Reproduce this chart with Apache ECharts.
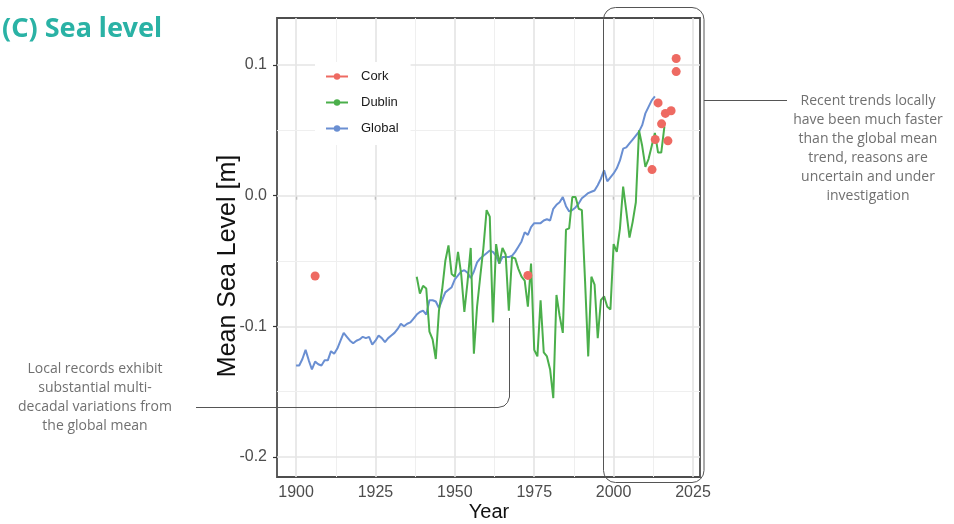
<!DOCTYPE html>
<html>
<head>
<meta charset="utf-8">
<script src="https://cdn.jsdelivr.net/npm/echarts@6/dist/echarts.min.js"></script>
<style>
  html, body { margin: 0; padding: 0; background: #fff; }
  #chart { width: 954px; height: 524px; }
</style>
</head>
<body>
<div id="chart"></div>
<script>
// annual mean sea level [m]
const globalStart = 1900
const globalValues = [
  -0.130, -0.130, -0.125, -0.118, -0.126, -0.133, -0.127, -0.129, -0.130, -0.126,
  -0.126, -0.119, -0.121, -0.117, -0.111, -0.105, -0.108, -0.111, -0.113, -0.111,
  -0.110, -0.108, -0.109, -0.108, -0.114, -0.111, -0.107, -0.109, -0.112, -0.109,
  -0.107, -0.105, -0.102, -0.098, -0.100, -0.098, -0.097, -0.094, -0.091, -0.089,
  -0.088, -0.091, -0.080, -0.080, -0.081, -0.086, -0.080, -0.074, -0.072, -0.070,
  -0.064, -0.061, -0.058, -0.057, -0.059, -0.063, -0.058, -0.051, -0.048, -0.046,
  -0.044, -0.042, -0.043, -0.046, -0.052, -0.047, -0.047, -0.047, -0.046, -0.043,
  -0.039, -0.035, -0.028, -0.030, -0.024, -0.021, -0.021, -0.021, -0.019, -0.018,
  -0.019, -0.010, -0.007, -0.005, -0.001, -0.008, -0.012, -0.011, -0.009, -0.006,
  -0.002, 0.000, 0.002, 0.003, 0.004, 0.008, 0.013, 0.0195, 0.011, 0.014,
  0.017, 0.021, 0.027, 0.036, 0.037, 0.040, 0.043, 0.046, 0.049, 0.054,
  0.063, 0.068, 0.073, 0.076,
]

const dublinStart = 1938
const dublinValues = [
  -0.062, -0.075, -0.069, -0.071, -0.104, -0.110, -0.125, -0.088, -0.072, -0.050,
  -0.038, -0.060, -0.062, -0.043, -0.060, -0.089, -0.066, -0.040, -0.121, -0.085,
  -0.062, -0.040, -0.011, -0.016, -0.097, -0.037, -0.052, -0.040, -0.045, -0.088,
  -0.047, -0.048, -0.056, -0.062, -0.065, -0.085, -0.052, -0.118, -0.123, -0.080,
  -0.120, -0.123, -0.133, -0.155, -0.076, -0.092, -0.105, -0.026, -0.025, -0.001,
  -0.001, -0.010, -0.011, -0.065, -0.123, -0.062, -0.068, -0.109, -0.080, -0.077,
  -0.085, -0.087, -0.037, -0.043, -0.025, 0.007, -0.012, -0.032, -0.020, -0.005,
  0.050, 0.038, 0.022, 0.028, 0.038, 0.048, 0.033, 0.033, 0.053,
]

const corkYears  = [1906, 1973, 2012.1, 2013.1, 2014, 2015.1, 2016.3, 2017.1, 2018.1, 2019.7, 2019.7]
const corkValues = [-0.0615, -0.061, 0.020, 0.043, 0.071, 0.055, 0.063, 0.042, 0.065, 0.105, 0.095]

const xTicks = [1900, 1925, 1950, 1975, 2000, 2025]
const xMinor = [1912.5, 1937.5, 1962.5, 1987.5, 2012.5]
const yTicks = [-0.2, -0.1, 0.0, 0.1]
const yMinor = [-0.15, -0.05, 0.05]

const RED = '#EE6A62', GREEN = '#4BAF4B', BLUE = '#6A8FD2'
const GRID_MAJOR = { color: '#e4e4e4', width: 1.6, type: 'solid' }
const GRID_MINOR = { color: '#efefef', width: 1, type: 'solid' }

const gridLines = [
  ...xTicks.map(v => ({ xAxis: v, lineStyle: GRID_MAJOR })),
  ...xMinor.map(v => ({ xAxis: v, lineStyle: GRID_MINOR })),
  ...yTicks.map(v => ({ yAxis: v, lineStyle: GRID_MAJOR })),
  ...yMinor.map(v => ({ yAxis: v, lineStyle: GRID_MINOR })),
]

const chart = echarts.init(document.getElementById('chart'), null, { renderer: 'canvas' })

const axisFont = { color: '#4d4d4d', fontSize: 16, fontFamily: 'Liberation Sans, Arial, sans-serif' }
const noteStyle = { fill: '#707070', fontSize: 14, fontFamily: 'Open Sans, sans-serif', lineHeight: 19 }

chart.setOption({
  animation: false,
  backgroundColor: '#fff',
  grid: { left: 277, right: 254, top: 18, bottom: 47, show: true, borderColor: '#4d4d4d', borderWidth: 1.8, backgroundColor: 'transparent' },
  xAxis: {
    type: 'value', min: 1894, max: 2027.2,
    axisLine: { show: false },
    axisTick: { show: true, customValues: xTicks, length: 4, lineStyle: { color: '#333', width: 1.2 } },
    axisLabel: { customValues: xTicks, margin: 8, formatter: v => String(v), ...axisFont },
    splitLine: { show: false },
  },
  yAxis: {
    type: 'value', min: -0.2153, max: 0.136,
    axisLine: { show: false },
    axisTick: { show: true, customValues: yTicks, length: 4, lineStyle: { color: '#333', width: 1.2 } },
    axisLabel: { customValues: yTicks, margin: 10, formatter: v => v.toFixed(1), ...axisFont },
    splitLine: { show: false },
  },
  legend: {
    orient: 'vertical', left: 315, top: 62, z: 20,
    padding: [8, 12, 10, 10],
    backgroundColor: '#fff',
    itemWidth: 22, itemHeight: 8, itemGap: 13,
    itemStyle: { borderWidth: 0 },
    textStyle: { color: '#1a1a1a', fontSize: 13, fontFamily: 'Liberation Sans, Arial, sans-serif', padding: [0, 0, 0, 8] },
    data: [
      { name: 'Cork', lineStyle: { color: RED, width: 2, opacity: 1 } },
      { name: 'Dublin' },
      { name: 'Global' },
    ],
  },
  series: [
    {
      name: 'grid', type: 'line', data: [], z: 1, silent: true,
      markLine: { z: 1, silent: true, symbol: ['none', 'none'], label: { show: false }, data: gridLines },
    },
    {
      name: 'Global', type: 'line', z: 3, showSymbol: false, symbol: 'circle', symbolSize: 7,
      data: globalValues.map((v, i) => [globalStart + i, v]),
      lineStyle: { color: BLUE, width: 2 }, itemStyle: { color: BLUE, borderWidth: 0 },
    },
    {
      name: 'Dublin', type: 'line', z: 4, showSymbol: false, symbol: 'circle', symbolSize: 7,
      data: dublinValues.map((v, i) => [dublinStart + i, v]),
      lineStyle: { color: GREEN, width: 2 }, itemStyle: { color: GREEN, borderWidth: 0 },
    },
    {
      // points only: the line is kept for the legend key
      name: 'Cork', type: 'line', z: 5, symbol: 'circle', symbolSize: 9, showSymbol: true,
      data: corkYears.map((y, i) => [y, corkValues[i]]),
      lineStyle: { color: RED, width: 2, opacity: 0 },
      itemStyle: { color: RED, opacity: 1, borderWidth: 0 },
    },
  ],
  graphic: [
    { type: 'text', x: 2, y: 29, style: { text: '(C) Sea level', fill: '#2AB2A5', font: 'bold 27px "Noto Sans", sans-serif', textVerticalAlign: 'middle' } },
    { type: 'text', x: 228, y: 266, rotation: Math.PI / 2, style: { text: 'Mean Sea Level [m]', fill: '#111', fontSize: 25, fontFamily: 'Liberation Sans, Arial, sans-serif', textAlign: 'center', textVerticalAlign: 'middle' } },
    { type: 'text', x: 489, y: 512, style: { text: 'Year', fill: '#111', fontSize: 20, fontFamily: 'Liberation Sans, Arial, sans-serif', textAlign: 'center', textVerticalAlign: 'middle' } },
    // callout round the recent years
    { type: 'rect', z: 10, shape: { x: 603.5, y: 7.5, width: 100.5, height: 475, r: 12 }, style: { fill: 'none', stroke: '#555', lineWidth: 1 } },
    { type: 'line', z: 10, shape: { x1: 704, y1: 100.5, x2: 787, y2: 100.5 }, style: { stroke: '#555', lineWidth: 1 } },
    { type: 'text', x: 868, y: 92, style: { text: 'Recent trends locally\nhave been much faster\nthan the global mean\ntrend, reasons are\nuncertain and under\ninvestigation', textAlign: 'center', textVerticalAlign: 'top', ...noteStyle } },
    // callout to the Dublin record
    { type: 'polyline', z: 10, shape: { points: [[196, 407.5], [498, 407.5], [504, 406], [507.5, 402.5], [509.5, 397], [509.5, 318]] }, style: { fill: 'none', stroke: '#555', lineWidth: 1 } },
    { type: 'text', x: 95, y: 360, style: { text: 'Local records exhibit\nsubstantial multi-\ndecadal variations from\nthe global mean', textAlign: 'center', textVerticalAlign: 'top', ...noteStyle } },
  ],
})
</script>
</body>
</html>
